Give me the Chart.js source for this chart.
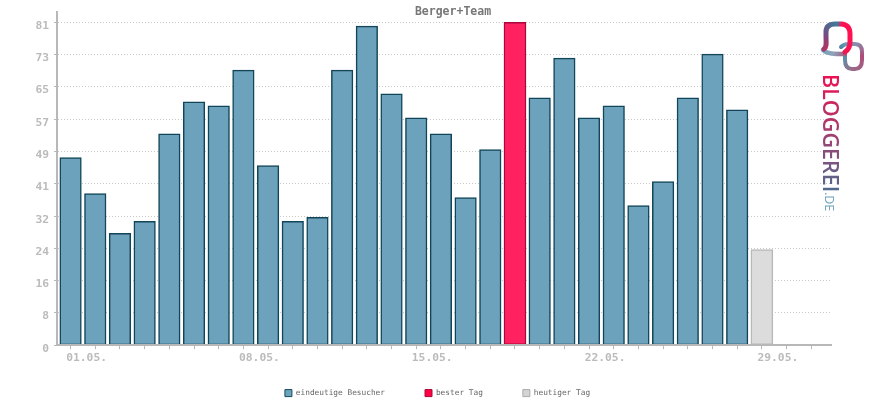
<!DOCTYPE html>
<html><head><meta charset="utf-8">
<style>html,body{margin:0;padding:0;background:#fff}canvas{display:block}</style>
<script src="https://cdn.jsdelivr.net/npm/chart.js@4"></script></head>
<body><canvas id="c" width="870" height="400"></canvas>
<script>
const dayLabels=["01.05.","","","","","","","08.05.","","","","","","","15.05.","","","","","","","22.05.","","","","","","","29.05.","",""];
const yTickLabels=["0","8","16","24","32","41","49","57","65","73","81"];
const visitors=[47,38,28,31,53,61,60,69,45,31,32,69,80,63,57,53,37,49,null,62,72,57,60,35,41,62,73,59,null];
const best=[null,null,null,null,null,null,null,null,null,null,null,null,null,null,null,null,null,null,81];
const today=[null,null,null,null,null,null,null,null,null,null,null,null,null,null,null,null,null,null,null,null,null,null,null,null,null,null,null,null,24];
const toPts=a=>a.map((v,i)=>({x:i,y:v}));
const MONO='"DejaVu Sans Mono"';
const shift={id:'shift',afterLayout(ch){
 ch.titleBlock.left=36;ch.titleBlock.right=870;
 ch.legend.left+=22;ch.legend.right+=22;
 ch.scales.x.bottom=ch.scales.x.top+30;
}};
const logo={id:'logo',afterDraw(ch){
 const c=ch.ctx;c.save();
 c.lineCap='round';
 let g=c.createConicGradient(0,853,56);
 [[0,'#b04a78'],[.25,'#9a6a88'],[.45,'#5f8fa8'],[.6,'#4f86a4'],[.68,'#6ea3bb'],[.8,'#8a8aa8'],[1,'#b04a78']].forEach(s=>g.addColorStop(s[0],s[1]));
 c.lineWidth=4;c.strokeStyle=g;
 c.beginPath();c.moveTo(841,47);c.bezierCurveTo(843,45,845,44,848,44);c.lineTo(855,44);c.bezierCurveTo(860,44,862,47,862,52);c.lineTo(862,60);c.bezierCurveTo(862,66,860,69,855,69);c.lineTo(852,69);c.bezierCurveTo(847,69,845,66,845,60);c.lineTo(845,53);c.stroke();
 g=c.createLinearGradient(822,50,845,54);
 g.addColorStop(0,'#6ea3bb');g.addColorStop(.5,'#8fa3bb');g.addColorStop(1,'#a0607f');
 c.strokeStyle=g;c.lineWidth=4.5;
 c.beginPath();c.moveTo(823,50);c.bezierCurveTo(827,54,834,54,845,54);c.stroke();
 g=c.createConicGradient(0,838,36);
 [[0,'#ff1050'],[.12,'#ff1050'],[.35,'#b8305f'],[.5,'#7a4a80'],[.65,'#4f6a90'],[.74,'#3f7a9c'],[.8,'#ff1050'],[1,'#ff1050']].forEach(s=>g.addColorStop(s[0],s[1]));
 c.strokeStyle=g;c.lineWidth=5;
 c.beginPath();c.moveTo(824,49);c.bezierCurveTo(827,47,826,42,826,36);c.lineTo(826,32);c.bezierCurveTo(826,26,830,24,835,24);c.lineTo(841,24);c.bezierCurveTo(847,24,850,28,850,34);c.lineTo(850,42);c.bezierCurveTo(850,47,848,50,845,52);c.stroke();
 c.translate(823,74);c.rotate(Math.PI/2);
 g=c.createLinearGradient(0,0,137,0);
 g.addColorStop(0,'#f01050');g.addColorStop(.45,'#a04070');g.addColorStop(.85,'#4f6a90');g.addColorStop(1,'#6ea3bb');
 c.fillStyle=g;c.textBaseline='alphabetic';c.textAlign='left';
 c.font='600 21.5px "Open Sans"';
 c.fillText('BLOGGEREI',0,0);
 c.fillStyle='#6ea3bb';c.font='400 12.5px "Open Sans"';
 c.fillText('.DE',118,-2);
 c.restore();
}};
new Chart(document.getElementById('c'),{
 type:'bar',
 data:{datasets:[
  {label:'eindeutige Besucher',data:toPts(visitors),backgroundColor:'#6ca2bb',borderColor:'#124559',borderWidth:1.5,barThickness:21,inflateAmount:0.6,borderSkipped:false,grouped:false},
  {label:'bester Tag',data:toPts(best),backgroundColor:'#ff2160',borderColor:'#a8063c',borderWidth:1.5,barThickness:22,borderSkipped:false,grouped:false},
  {label:'heutiger Tag',data:toPts(today),backgroundColor:'#dcdcdc',borderColor:'#b8b8b8',borderWidth:1.5,barThickness:22,borderSkipped:false,grouped:false}
 ]},
 plugins:[logo,shift],
 options:{responsive:false,animation:false,
  layout:{padding:{left:0,right:39,top:0,bottom:-7}},
  plugins:{
   tooltip:{enabled:false},
   title:{display:true,text:'Berger+Team',color:'#777',font:{family:MONO,size:11.5,weight:'bold'},padding:{top:5,bottom:-7}},
   legend:{position:'bottom',labels:{font:{family:MONO,size:7.8},color:'#666',boxWidth:7,boxHeight:7,padding:40,
     generateLabels(ch){return ch.data.datasets.map((d,i)=>({text:d.label,fillStyle:['#6ca2bb','#ff0040','#d4d4d4'][i],strokeStyle:['#164a5f','#a8063c','#aaa'][i],lineWidth:1,datasetIndex:i,fontColor:'#666'}));}}}
  },
  scales:{
   x:{type:'linear',offset:false,min:-0.55,max:30.8,
    grid:{offset:false,drawOnChartArea:false,color:'#b8b8b8',tickLength:4,tickWidth:1},
    border:{color:'#b8b8b8',width:2,z:1},
    ticks:{stepSize:1,autoSkip:false,includeBounds:false,maxRotation:0,color:'#bbb',font:{family:MONO,size:11.3,weight:'bold'},labelOffset:16,padding:2,callback:(v,i)=>dayLabels[v]??''},
    afterFit(s){s.height=4;}},
   y:{min:0,max:83.67,
    grid:{color:'#c8c8c8',tickColor:'#b8b8b8',tickLength:3,tickBorderDash:[],lineWidth:1},
    border:{color:'#b8b8b8',width:2,dash:[1,2]},
    ticks:{stepSize:8.1,includeBounds:false,autoSkip:false,color:'#bbb',font:{family:MONO,size:11.3,weight:'bold'},padding:5,labelOffset:3.5,callback:(v,i)=>yTickLabels[i]},
    afterFit(s){s.width=57;}}
  }
 }
});
</script></body></html>
